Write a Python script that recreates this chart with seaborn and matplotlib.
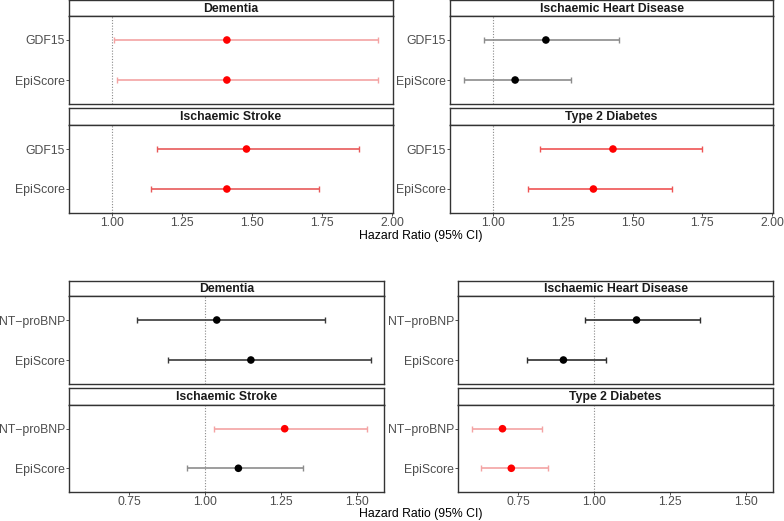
import numpy as np
import pandas as pd
import matplotlib
matplotlib.use("Agg")
import matplotlib.pyplot as plt
import seaborn as sns

sns.set_theme(style="white")
plt.rcParams['font.family'] = ['Liberation Sans', 'DejaVu Sans']

# Panel titles (same order for both blocks)
diseases = ["Dementia", "Ischaemic Heart Disease", "Ischaemic Stroke", "Type 2 Diabetes"]

# Top block: GDF15 vs its EpiScore
gdf_labels = ["GDF15", "EpiScore"]
gdf_hr = [[1.41, 1.41], [1.19, 1.08], [1.48, 1.41], [1.43, 1.36]]
gdf_lo = [[1.007, 1.018], [0.97, 0.897], [1.16, 1.14], [1.17, 1.127]]
gdf_hi = [[1.95, 1.95], [1.45, 1.28], [1.88, 1.74], [1.75, 1.64]]
gdf_sig = [[True, True], [False, False], [True, True], [True, True]]
gdf_bar = [["#f4a3a3", "#f4a3a3"], ["#8c8c8c", "#8c8c8c"],
           ["#e85a5a", "#e85a5a"], ["#ef5454", "#ef5454"]]

# Bottom block: NT-proBNP vs its EpiScore
bnp_labels = ["NT\u2212proBNP", "EpiScore"]
bnp_hr = [[1.038, 1.15], [1.139, 0.899], [1.261, 1.109], [0.699, 0.728]]
bnp_lo = [[0.776, 0.878], [0.97, 0.779], [1.03, 0.939], [0.598, 0.628]]
bnp_hi = [[1.394, 1.545], [1.348, 1.04], [1.532, 1.32], [0.829, 0.85]]
bnp_sig = [[False, False], [False, False], [True, False], [True, True]]
bnp_bar = [["#3a3a3a", "#3a3a3a"], ["#2e2e2e", "#2e2e2e"],
           ["#f4a3a3", "#8c8c8c"], ["#f4a3a3", "#f4a3a3"]]

W, H = 784, 521
fig = plt.figure(figsize=(W / 100, H / 100), dpi=100)


def px_axes(x0, y0, x1, y1):
    # pixel box (y from top) -> figure axes
    return fig.add_axes([x0 / W, 1 - y1 / H, (x1 - x0) / W, (y1 - y0) / H])


def strip(x0, y0, x1, y1, title):
    s = px_axes(x0, y0, x1, y1)
    s.set_xticks([])
    s.set_yticks([])
    for sp in s.spines.values():
        sp.set_color("#333333")
        sp.set_linewidth(1.0)
    s.set_facecolor("white")
    s.text(0.5, 0.45, title, ha="center", va="center", fontsize=8.8,
           fontweight="bold", color="#1a1a1a", transform=s.transAxes)


def panel(box, labels, hr, lo, hi, sig, bars, xlim, xticks, show_x):
    ax = px_axes(*box)
    df = pd.DataFrame({"label": labels, "hr": hr, "lo": lo, "hi": hi,
                       "sig": ["yes" if s else "no" for s in sig]})
    ypos = np.arange(len(labels))
    ax.axvline(1.0, color="#8a8a8a", lw=0.8, ls=(0, (1, 1.5)), zorder=1)
    for i, row in df.iterrows():
        ax.errorbar([row.hr], [ypos[i]],
                    xerr=[[row.hr - row.lo], [row.hi - row.hr]],
                    fmt="none", ecolor=bars[i], elinewidth=1.2,
                    capsize=2.5, capthick=1.0, zorder=2)
    df["y"] = ypos
    sns.scatterplot(data=df, x="hr", y="y", hue="sig",
                    palette={"yes": "#ff0000", "no": "#000000"},
                    s=30, linewidth=0, legend=False, zorder=3, ax=ax)
    ax.set_ylim(len(labels) - 0.4, -0.6)
    ax.set_yticks(ypos)
    ax.set_yticklabels(labels)
    ax.set_xlim(*xlim)
    ax.set_xticks(xticks)
    ax.set_xlabel("")
    ax.set_ylabel("")
    ax.tick_params(axis="both", length=2.0, width=0.6, color="#333333",
                   labelsize=8.8, labelcolor="#4d4d4d", pad=1.0,
                   left=True, bottom=True)
    if show_x:
        ax.set_xticklabels([f"{t:.2f}" for t in xticks])
    else:
        ax.set_xticklabels([])
        ax.tick_params(axis="x", length=0)
    for sp in ax.spines.values():
        sp.set_color("#333333")
        sp.set_linewidth(1.0)
    return ax


# Top block layout (pixels)
top_cols = [(69, 393), (450, 773)]
top_rows = [((0, 16), (16, 104)), ((108, 125), (125, 213))]
bot_cols = [(69, 384), (458, 773)]
bot_rows = [((281, 296), (296, 384)), ((388, 405), (405, 492))]

top_xlim = (0.847, 2.0025)
top_ticks = [1.00, 1.25, 1.50, 1.75, 2.00]
bot_xlim = (0.553, 1.587)
bot_ticks = [0.75, 1.00, 1.25, 1.50]

for k, name in enumerate(diseases):
    r, c = divmod(k, 2)
    x0, x1 = top_cols[c]
    (sy0, sy1), (py0, py1) = top_rows[r]
    strip(x0, sy0, x1, sy1, name)
    panel((x0, py0, x1, py1), gdf_labels, gdf_hr[k], gdf_lo[k], gdf_hi[k],
          gdf_sig[k], gdf_bar[k], top_xlim, top_ticks, r == 1)

    x0, x1 = bot_cols[c]
    (sy0, sy1), (py0, py1) = bot_rows[r]
    strip(x0, sy0, x1, sy1, name)
    panel((x0, py0, x1, py1), bnp_labels, bnp_hr[k], bnp_lo[k], bnp_hi[k],
          bnp_sig[k], bnp_bar[k], bot_xlim, bot_ticks, r == 1)

fig.text(421 / W, 1 - 236 / H, "Hazard Ratio (95% CI)", ha="center",
         va="center", fontsize=8.8, color="black")
fig.text(421 / W, 1 - 514 / H, "Hazard Ratio (95% CI)", ha="center",
         va="center", fontsize=8.8, color="black")

fig.savefig("out.png", dpi=100, facecolor="white")
